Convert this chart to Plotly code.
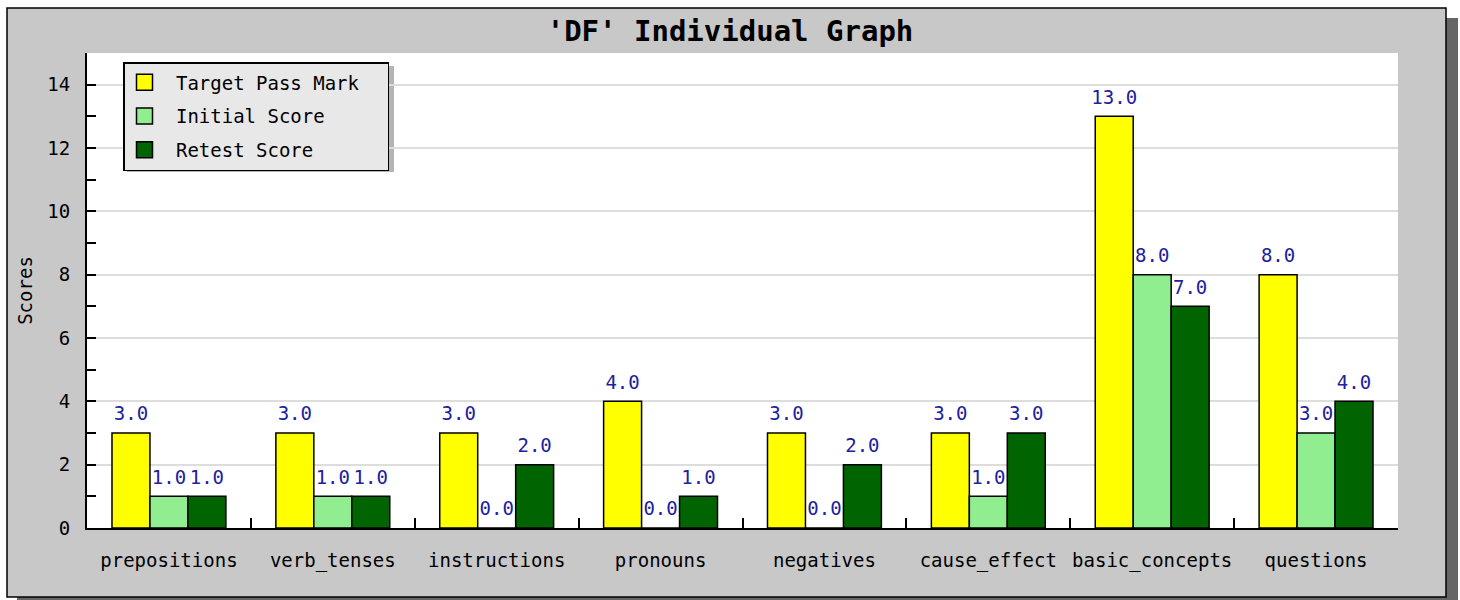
import plotly.graph_objects as go

categories = ["prepositions", "verb_tenses", "instructions", "pronouns",
              "negatives", "cause_effect", "basic_concepts", "questions"]
target_pass = [3, 3, 3, 4, 3, 3, 13, 8]
initial_score = [1, 1, 0, 0, 0, 1, 8, 3]
retest_score = [1, 1, 2, 1, 2, 3, 7, 4]

series_names = ["Target Pass Mark", "Initial Score", "Retest Score"]
series_values = [target_pass, initial_score, retest_score]
series_colors = ["#ffff00", "#90ee90", "#006400"]

W, H = 1460, 600
L, R, T, B = 87, 1398, 53, 528
FONT = "DejaVu Sans Mono"
LABEL_COLOR = "#2020a0"
NB = "\u00a0"


def px(x):
    return (x - L) / (R - L)


def py(y):
    return (B - y) / (B - T)


fig = go.Figure()

for name, vals, col in zip(series_names, series_values, series_colors):
    fig.add_trace(go.Bar(
        x=categories, y=vals, name=name, offsetgroup=name,
        marker=dict(color=col, line=dict(color="black", width=1.5)),
        showlegend=False, hoverinfo="x+y+name"))

for name, vals in zip(series_names, series_values):
    fig.add_trace(go.Scatter(
        x=categories, y=vals, mode="markers+text", offsetgroup=name,
        text=[f"{v:.1f}" for v in vals], textposition="top center",
        textfont=dict(family=FONT, size=19, color=LABEL_COLOR),
        marker=dict(size=11, opacity=0), showlegend=False, hoverinfo="skip",
        cliponaxis=False))

for i, (name, col) in enumerate(zip(series_names, series_colors)):
    fig.add_trace(go.Scatter(
        x=[None], y=[None], mode="markers", name=NB + name + NB * 2,
        legendgroup=f"g{i}",
        marker=dict(symbol="square", size=18, color=col,
                    line=dict(color="black", width=1.5))))

shapes = [
    dict(type="rect", xref="paper", yref="paper", x0=px(17), x1=px(1458),
         y0=py(18), y1=py(606), fillcolor="#666666", line=dict(width=0), layer="below"),
    dict(type="rect", xref="paper", yref="paper", x0=px(7), x1=px(1446),
         y0=py(8), y1=py(597), fillcolor="#c8c8c8",
         line=dict(color="black", width=1.5), layer="below"),
    dict(type="rect", xref="paper", yref="paper", x0=0, x1=1,
         y0=0, y1=1, fillcolor="white", line=dict(width=0), layer="below"),
    dict(type="rect", xref="paper", yref="paper", x0=px(127), x1=px(394),
         y0=py(66), y1=py(172), fillcolor="#b4b4b4", line=dict(width=0), layer="below"),
]

fig.update_layout(
    width=W, height=H,
    margin=dict(l=L, r=W - R, t=T, b=H - B, autoexpand=False),
    paper_bgcolor="white", plot_bgcolor="rgba(0,0,0,0)",
    barmode="group", bargap=0.305, scattermode="group", scattergap=0.305,
    font=dict(family=FONT, size=19, color="black"),
    title=dict(text="'DF' Individual Graph", x=0.5, xanchor="center",
               y=1 - 31 / H, yanchor="middle", yref="container",
               font=dict(family=FONT, size=29, color="black", weight="bold")),
    shapes=shapes,
    legend=dict(x=px(123), y=py(62), xanchor="left", yanchor="top",
                bgcolor="#e8e8e8", bordercolor="black", borderwidth=1.5,
                tracegroupgap=6, itemsizing="trace",
                font=dict(family=FONT, size=19, color="black")),
    xaxis=dict(showline=True, linecolor="black", linewidth=2,
               ticks="inside", ticklen=10, tickwidth=2, tickcolor="black",
               tickson="boundaries", showgrid=False, ticklabelstandoff=14,
               tickangle=0,
               tickfont=dict(family=FONT, size=19, color="black")),
    yaxis=dict(range=[0, 15], dtick=2, tick0=0, showline=True, linecolor="black",
               linewidth=2, ticks="inside", ticklen=9, tickwidth=2, tickcolor="black",
               showgrid=True, gridcolor="#dddddd", gridwidth=1.5, zeroline=False,
               ticklabelstandoff=11,
               minor=dict(dtick=1, tick0=0, ticks="inside", ticklen=9,
                          tickwidth=2, tickcolor="black", showgrid=False),
               tickfont=dict(family=FONT, size=19, color="black"),
               title=dict(text="Scores", standoff=10,
                          font=dict(family=FONT, size=19, color="black"))),
)

fig.write_html("out.html", config={"displayModeBar": False},
               post_script="document.body.style.margin='0px';"
                           "document.body.style.padding='0px';")
